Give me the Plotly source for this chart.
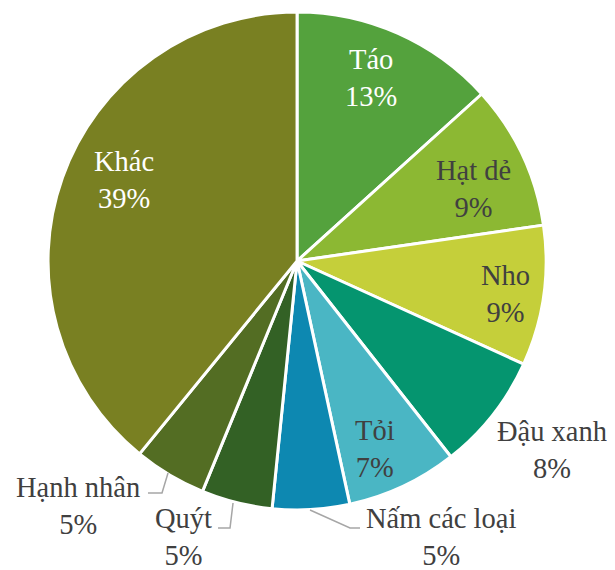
import plotly.graph_objects as go

labels = ["Táo", "Hạt dẻ", "Nho", "Đậu xanh", "Tỏi", "Nấm các loại", "Quýt", "Hạnh nhân", "Khác"]
values = [13.3, 9.4, 9.1, 7.6, 7.2, 5.0, 4.6, 4.7, 39.1]
pct_text = ["13%", "9%", "9%", "8%", "7%", "5%", "5%", "5%", "39%"]
colors = ["#54a23d", "#8cb833", "#c5cf3a", "#05956f", "#4ab6c4", "#0d88b1", "#336125", "#536d23", "#798022"]
text_colors = ["white", "#404040", "#404040", "#404040", "#404040", "#404040", "#404040", "#404040", "white"]
# label block centres in pixels (layout only)
label_pos_px = [(371, 78), (473, 189), (505, 294), (552, 450), (375, 449),
                (441, 537), (183, 537), (78, 506), (124, 180)]
leaders_px = [
    [(310, 510), (350, 528), (360, 528)],
    [(233, 503), (230, 528), (218, 528)],
    [(168, 473), (162, 493), (148, 493)],
]

W, H = 615, 570
OFF = 8  # page body margin
FONT = "Liberation Serif, Times New Roman, serif"


def fx(x):
    return (x - OFF) / W


def fy(y):
    return 1 - (y - OFF) / H


fig = go.Figure(go.Pie(
    labels=labels,
    values=values,
    textinfo="none",
    marker=dict(colors=colors, line=dict(color="white", width=3)),
    sort=False,
    direction="clockwise",
    rotation=0,
    showlegend=False,
    hoverinfo="label+percent",
    domain=dict(x=[0.065, 0.875], y=[0.1193, 0.993]),
))

for lab, pct, col, (px, py) in zip(labels, pct_text, text_colors, label_pos_px):
    fig.add_annotation(
        x=fx(px), y=fy(py), xref="paper", yref="paper",
        text=f"{lab}<br>{pct}", showarrow=False,
        xanchor="center", yanchor="middle", align="center",
        font=dict(family=FONT, size=28.5, color=col),
    )

for pts in leaders_px:
    path = "M " + " L ".join(f"{fx(x):.4f},{fy(y):.4f}" for x, y in pts)
    fig.add_shape(type="path", path=path, xref="paper", yref="paper",
                  line=dict(color="#a6a6a6", width=1.5))

fig.update_layout(
    width=W, height=H,
    margin=dict(l=0, r=0, t=0, b=0),
    paper_bgcolor="white",
    plot_bgcolor="white",
)
fig.write_html("out.html")
